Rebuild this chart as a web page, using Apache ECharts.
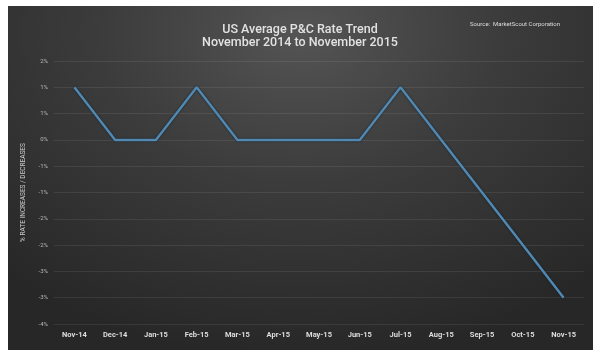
<!DOCTYPE html>
<html><head><meta charset="utf-8">
<script src="https://cdn.jsdelivr.net/npm/echarts@6/dist/echarts.min.js"></script>
<style>
html,body{margin:0;padding:0;background:#fff;}
#wrap{position:relative;width:600px;height:357px;background:#fff;}
#panel{position:absolute;left:8px;top:6px;width:585px;height:344px;
background:radial-gradient(ellipse 75% 95% at 50% 8%, #545454 0%, #3c3c3c 45%, #272727 100%);}
#chart{position:absolute;left:0;top:0;width:600px;height:357px;}
</style></head>
<body><div id="wrap"><div id="panel"></div><div id="chart"></div></div>
<script>
const categories = ['Nov-14','Dec-14','Jan-15','Feb-15','Mar-15','Apr-15','May-15','Jun-15','Jul-15','Aug-15','Sep-15','Oct-15','Nov-15'];
const rateChange = [1, 0, 0, 1, 0, 0, 0, 0, 1, 0, -1, -2, -3];
const titleLines = ['US Average P&C Rate Trend', 'November 2014 to November 2015'];
const sourceText = 'Source:  MarketScout Corporation';
const yAxisName = '% RATE INCREASES / DECREASES';

const chart = echarts.init(document.getElementById('chart'), null, {renderer:'canvas'});
chart.setOption({
  backgroundColor: 'transparent',
  animation: false,
  title: [{
    text: titleLines.join('\n'),
    left: 'center', top: 18,
    textStyle: {color:'#e2e2e2', fontFamily:'Roboto', fontSize:12.5, fontWeight:500, lineHeight:13}
  },{
    text: sourceText,
    left: 465, top: 16,
    textStyle: {color:'#dddddd', fontFamily:'Roboto', fontSize:6, fontWeight:'normal'}
  }],
  grid: {left:54, right:16, top:61, bottom:33},
  xAxis: {
    type:'category', data: categories, boundaryGap:true,
    axisLine:{show:false}, axisTick:{show:false},
    axisLabel:{color:'#dedede', fontFamily:'Roboto', fontSize:7.5, fontWeight:'bold', margin:7, interval:0}
  },
  yAxis: {
    type:'value', min:-3.5, max:1.5, interval:0.5,
    name: yAxisName, nameLocation:'middle', nameGap:27, nameRotate:90,
    nameTextStyle:{color:'#c8c8c8', fontFamily:'Roboto', fontSize:6.5},
    axisLine:{show:false}, axisTick:{show:false},
    axisLabel:{color:'#b8b8b8', fontFamily:'Roboto', fontSize:6, margin:6,
      formatter: v => { const r = Math.sign(v)*Math.round(Math.abs(v)); return (r===0?0:r) + '%'; }},
    splitLine:{lineStyle:{color:'rgba(255,255,255,0.08)', width:1}}
  },
  series: [{
    type:'line', data: rateChange, symbol:'none',
    lineStyle:{color:'#5288b0', width:2.5, shadowColor:'rgba(10,25,40,0.9)', shadowBlur:2},
    z:3
  }]
});
</script></body></html>
